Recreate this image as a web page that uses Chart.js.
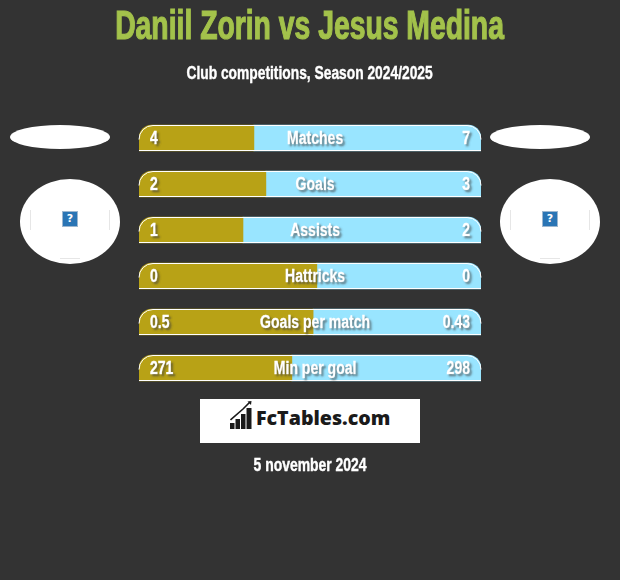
<!DOCTYPE html>
<html>
<head>
<meta charset="utf-8">
<title>Daniil Zorin vs Jesus Medina</title>
<script src="https://cdn.jsdelivr.net/npm/chart.js@4/dist/chart.umd.min.js"></script>
<style>
	html, body { margin: 0; padding: 0; background: #333333; }
	#page { position: relative; width: 620px; height: 580px; overflow: hidden; font-family: "Liberation Sans", sans-serif; font-weight: bold; }
	canvas { position: absolute; left: 0; top: 0; }
	.line { position: absolute; left: 0; width: 620px; text-align: center; white-space: nowrap; }
	.line span { display: inline-block; }
	#title { top: 1px; font-size: 40px; line-height: 48px; color: #a3c24b; }
	#title span { transform: scaleX(0.708); -webkit-text-stroke: 1.2px #a3c24b; }
	#subtitle { top: 63px; font-size: 18px; line-height: 20px; color: #ffffff; }
	#subtitle span { transform: scaleX(0.767); -webkit-text-stroke: 0.4px #ffffff; }
	#date { top: 455px; font-size: 18px; line-height: 20px; color: #ffffff; }
	#date span { transform: scaleX(0.774); -webkit-text-stroke: 0.4px #ffffff; }
	.oval { position: absolute; background: #ffffff; border-radius: 50%; }
	.badge { position: absolute; box-sizing: border-box; width: 16px; height: 16px; background: #2a75b5; border: 1px solid #9db7d0; color: #ffffff; font: bold 11px/14px "DejaVu Sans", sans-serif; text-align: center; }
	.frame { position: absolute; background: #e6e6e6; }
	#logo { position: absolute; left: 200px; top: 399px; width: 220px; height: 44px; background: #ffffff; }
	#logo svg { position: absolute; left: 30px; top: 2px; }
	#logo b { position: absolute; left: 56px; top: 5px; font: 800 19.6px/28px "Open Sans", sans-serif; color: #1a1a1a; }
</style>
</head>
<body>
<div id="page">
	<canvas id="bars" width="620" height="580"></canvas>
	<div class="line" id="title"><span>Daniil Zorin vs Jesus Medina</span></div>
	<div class="line" id="subtitle"><span>Club competitions, Season 2024/2025</span></div>

	<div class="oval" style="left:10px;top:125px;width:100px;height:24px"></div>
	<div class="oval" style="left:490px;top:125px;width:100px;height:24px"></div>
	<div class="oval" style="left:20px;top:179px;width:100px;height:85px"></div>
	<div class="oval" style="left:500px;top:179px;width:100px;height:85px"></div>

	<div class="frame" style="left:30px;top:210px;width:1px;height:20px"></div>
	<div class="frame" style="left:109px;top:210px;width:1px;height:20px"></div>
	<div class="frame" style="left:60px;top:258px;width:20px;height:1px"></div>
	<div class="frame" style="left:510px;top:210px;width:1px;height:20px"></div>
	<div class="frame" style="left:589px;top:210px;width:1px;height:20px"></div>
	<div class="frame" style="left:540px;top:258px;width:20px;height:1px"></div>
	<div class="badge" style="left:62px;top:211px">?</div>
	<div class="badge" style="left:542px;top:211px">?</div>

	<div id="logo">
		<svg width="24" height="30" viewBox="0 0 24 30">
			<path d="M0.5 19 L13 8 L20 1" fill="none" stroke="#1a1a1a" stroke-width="1.6"/>
			<path d="M17.5 0.5 L21.5 0 L21 4 Z" fill="#1a1a1a"/>
			<rect x="0" y="22" width="4.5" height="6" fill="#1a1a1a"/>
			<rect x="5.5" y="18" width="4.5" height="10" fill="#1a1a1a"/>
			<rect x="11" y="13" width="4.5" height="15" fill="#1a1a1a"/>
			<rect x="16.5" y="7" width="5" height="21" fill="#1a1a1a"/>
		</svg>
		<b>FcTables.com</b>
	</div>
	<div class="line" id="date"><span>5 november 2024</span></div>
</div>
<script>
const CATEGORIES = ['Matches', 'Goals', 'Assists', 'Hattricks', 'Goals per match', 'Min per goal'];
const LEFT_LABELS = ['4', '2', '1', '0', '0.5', '271'];
const RIGHT_LABELS = ['7', '3', '2', '0', '0.43', '298'];
// bar shares in percent
const LEFT_SHARE = [33.6, 37.1, 30.4, 52, 50.9, 44.7];
const RIGHT_SHARE = [66.4, 62.9, 69.6, 48, 49.1, 55.3];

const CORNER = 14;
const SQUEEZE = 0.78;

const outlinePlugin = {
	id: 'outline',
	afterDatasetsDraw(chart) {
		const ctx = chart.ctx;
		const first = chart.getDatasetMeta(0).data;
		const second = chart.getDatasetMeta(1).data;
		ctx.save();
		ctx.strokeStyle = '#ffffff';
		ctx.lineWidth = 1;
		first.forEach((bar, i) => {
			const left = bar.base;
			const right = second[i].x;
			const top = bar.y - bar.height / 2 + 0.5;
			const bottom = bar.y + bar.height / 2 - 0.5;
			ctx.beginPath();
			ctx.moveTo(left, top + CORNER);
			ctx.arcTo(left, top, left + CORNER, top, CORNER);
			ctx.lineTo(right - CORNER, top);
			ctx.arcTo(right, top, right, top + CORNER, CORNER);
			ctx.stroke();
			ctx.beginPath();
			ctx.moveTo(left, bottom);
			ctx.lineTo(right, bottom);
			ctx.stroke();
		});
		ctx.restore();
	},
};

// horizontally squeezed text, no condensed face is installed
function squeezedText(ctx, text, x, y, align) {
	ctx.save();
	ctx.translate(x, y);
	ctx.scale(SQUEEZE, 1);
	ctx.textAlign = align;
	ctx.strokeText(text, 0, 0);
	ctx.fillText(text, 0, 0);
	ctx.restore();
}

const labelPlugin = {
	id: 'rowLabels',
	afterDraw(chart) {
		const ctx = chart.ctx;
		const xScale = chart.scales.x;
		const yScale = chart.scales.y;
		ctx.save();
		ctx.font = 'bold 18px "Liberation Sans", sans-serif';
		ctx.fillStyle = '#ffffff';
		ctx.strokeStyle = '#ffffff';
		ctx.lineWidth = 0.4;
		ctx.textBaseline = 'middle';
		ctx.shadowColor = 'rgba(60, 60, 60, 0.55)';
		ctx.shadowOffsetX = 2;
		ctx.shadowOffsetY = 2;
		ctx.shadowBlur = 2;
		CATEGORIES.forEach((name, i) => {
			const y = yScale.getPixelForValue(i) + 1;
			squeezedText(ctx, LEFT_LABELS[i], xScale.left + 11, y, 'left');
			squeezedText(ctx, name, xScale.getPixelForValue(51.5), y, 'center');
			squeezedText(ctx, RIGHT_LABELS[i], xScale.right - 11, y, 'right');
		});
		ctx.restore();
	},
};

new Chart(document.getElementById('bars'), {
	type: 'bar',
	data: {
		labels: CATEGORIES,
		datasets: [
			{
				data: LEFT_SHARE,
				backgroundColor: '#b8a216',
				borderSkipped: false,
				borderRadius: { topLeft: CORNER, topRight: 0, bottomLeft: 0, bottomRight: 0 },
				barThickness: 26,
			},
			{
				data: RIGHT_SHARE,
				backgroundColor: '#99e5ff',
				borderSkipped: false,
				borderRadius: { topLeft: 0, topRight: CORNER, bottomLeft: 0, bottomRight: 0 },
				barThickness: 26,
			},
		],
	},
	options: {
		indexAxis: 'y',
		responsive: false,
		animation: false,
		layout: { padding: { left: 139, right: 139, top: 115, bottom: 189 } },
		plugins: {
			legend: { display: false },
			title: { display: false },
			tooltip: { enabled: false },
		},
		scales: {
			x: { stacked: true, min: 0, max: 100, display: false },
			y: { stacked: true, display: false },
		},
	},
	plugins: [outlinePlugin, labelPlugin],
});
</script>
</body>
</html>
